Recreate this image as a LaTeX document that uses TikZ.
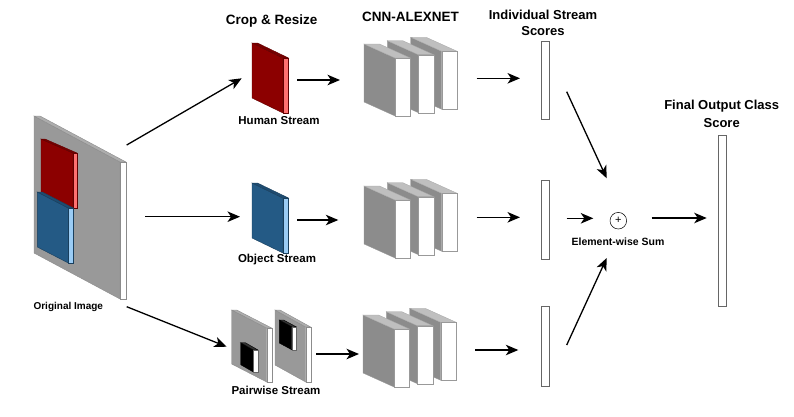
\documentclass[tikz,border=0pt]{standalone}
\usepackage{fontspec}
\setmainfont{Liberation Sans}
\usetikzlibrary{arrows.meta}
\definecolor{dred}{HTML}{8C0000}
\definecolor{pinkred}{HTML}{FF7070}
\definecolor{dblue}{HTML}{245A85}
\definecolor{lblue}{HTML}{9ACCF5}
\tikzset{
  imgside/.style={fill=black!40,draw=black!45,line width=.4pt},
  imgtop/.style={fill=black!32,draw=black!45,line width=.4pt},
  imgfront/.style={fill=white,draw=black!45,line width=.4pt},
  redside/.style={fill=dred,draw=dred!70!black,line width=.4pt},
  redtop/.style={fill=dred!85!black,draw=dred!70!black,line width=.4pt},
  redfront/.style={fill=pinkred,draw=dred!70!black,line width=.4pt},
  blueside/.style={fill=dblue,draw=dblue!70!black,line width=.4pt},
  bluetop/.style={fill=dblue!85!black,draw=dblue!70!black,line width=.4pt},
  bluefront/.style={fill=lblue,draw=dblue!70!black,line width=.4pt},
  blkside/.style={fill=black,draw=black,line width=.4pt},
  blktop/.style={fill=black!80,draw=black,line width=.4pt},
  blkfront/.style={fill=white,draw=black!60,line width=.4pt},
  cnnside/.style={fill=black!45,draw=black!40,line width=.3pt},
  cnntop/.style={fill=black!25,draw=black!35,line width=.3pt},
  cnnfront/.style={fill=white,draw=black!40,line width=.3pt},
  title/.style={font=\fontsize{13.5}{16}\selectfont\bfseries,inner sep=0pt,align=center},
  lbl/.style={font=\fontsize{11.5}{13}\selectfont\bfseries,inner sep=0pt},
  smalllbl/.style={font=\fontsize{10}{12}\selectfont\bfseries,inner sep=0pt},
  scorebar/.style={draw=black!60,fill=white,line width=.8pt,inner sep=0pt,minimum width=7.6pt},
  arr/.style={line width=1.3pt,-{Stealth[length=12.5pt,width=10.5pt,inset=3.5pt]}},
}
% front x, front y, front w, front h, depth dx, depth dy, style prefix
\newcommand\cuboid[7]{%
  \path[#7side] (#1,#2) -- ++(#5,#6) -- ++(0,#4) -- ++({-(#5)},{-(#6)}) -- cycle;
  \path[#7top] (#1,#2) -- ++(#3,0) -- ++(#5,#6) -- ++({-(#3)},0) -- cycle;
  \path[#7front] (#1,#2) rectangle ++(#3,#4);
}
\newcommand\cnnblock[2]{%
  \cuboid{#1+46.7}{#2-6.7}{15.5}{58}{-31}{-14}{cnn}
  \cuboid{#1+23.3}{#2-3.3}{15.5}{58}{-31}{-14}{cnn}
  \cuboid{#1}{#2}{15.5}{58}{-31}{-14}{cnn}
}
\begin{document}
\begin{tikzpicture}[x=1pt,y=-1pt]
\useasboundingbox (0,0) rectangle (794,416);

% original image
\cuboid{120}{162}{6}{137}{-86}{-46}{img}
\cuboid{73}{153}{4}{55}{-32}{-14}{red}
\cuboid{68.3}{208}{5}{55}{-31}{-16}{blue}
\node[smalllbl] (origlbl) at (68.3,307.3) {Original Image};

% crop & resize
\node[title] (t1) at (271.7,20.7) {Crop \& Resize};
\cuboid{283}{58}{5.5}{55}{-31}{-15}{red}
\node[lbl] (hlbl) at (279,120.5) {Human Stream};
\cuboid{283}{198}{5.5}{55}{-31}{-15}{blue}
\node[lbl] (olbl) at (277,260) {Object Stream};
\cuboid{266.7}{328}{5}{54}{-35}{-18}{img}
\cuboid{253.3}{350}{4.7}{22}{-12.6}{-7.3}{blk}
\cuboid{305.7}{327}{5}{55}{-30.7}{-17}{img}
\cuboid{291.7}{326.7}{4.3}{23}{-12.4}{-6.7}{blk}
\node[lbl] (plbl) at (276,390) {Pairwise Stream};

% CNN blocks
\node[title] (t2) at (410.5,16.7) {CNN-ALEXNET};
\cnnblock{395}{58}
\cnnblock{395}{200}
\cnnblock{394}{329}

% scores
\node[title,font=\fontsize{13}{16}\selectfont\bfseries] (t3) at (543,23) {Individual Stream\\Scores};
\node[scorebar,minimum height=77.6pt] (sb1) at (545.5,80.5) {};
\node[scorebar,minimum height=78.6pt] (sb2) at (545.2,220) {};
\node[scorebar,minimum height=79.3pt] (sb3) at (545.5,346.3) {};

% sum
\node[draw,circle,line width=.5pt,minimum size=16.6pt,inner sep=0pt,font=\fontsize{11}{11}\selectfont] (plus) at (618.3,220.7) {+};
\node[font=\fontsize{10.5}{12}\selectfont\bfseries,inner sep=0pt] (sumlbl) at (618,241.7) {Element-wise Sum};

% final
\node[title,font=\fontsize{13}{18}\selectfont\bfseries] (t4) at (721.7,114) {Final Output Class\\Score};
\node[scorebar,minimum width=8.4pt,minimum height=171.7pt] (fb) at (722.5,221) {};

% connector coordinates
\coordinate (o1s) at (126.7,145);   \coordinate (o1e) at (241.7,78.3);
\coordinate (o2s) at (145,216.7);   \coordinate (o2e) at (240,216.7);
\coordinate (o3s) at (126.7,306.7); \coordinate (o3e) at (226.7,346.7);
\coordinate (h1s) at (297.3,80);    \coordinate (h1e) at (340,80);
\coordinate (b1s) at (297.3,220);   \coordinate (b1e) at (338.3,220);
\coordinate (p1s) at (316,354);     \coordinate (p1e) at (359,354);
\coordinate (c1s) at (476.7,78.3);  \coordinate (c1e) at (520,78.3);
\coordinate (c2s) at (476.7,217.3); \coordinate (c2e) at (520,217.3);
\coordinate (c3s) at (475,350);     \coordinate (c3e) at (518.3,350);
\coordinate (s1s) at (566.7,91.7);  \coordinate (s1e) at (606.7,178.3);
\coordinate (s2s) at (566.7,218.3); \coordinate (s2e) at (593.3,218.3);
\coordinate (s3s) at (566.7,345);   \coordinate (s3e) at (606.7,258);
\coordinate (fs) at (651.7,218);    \coordinate (fe) at (706.7,218);

\foreach \a in {o1,o2,o3,h1,b1,p1,c1,c2,c3,s1,s2,s3}
  \draw[arr] (\a s) -- (\a e);
\draw[arr] (fs) -- (fe);
\end{tikzpicture}
\end{document}
